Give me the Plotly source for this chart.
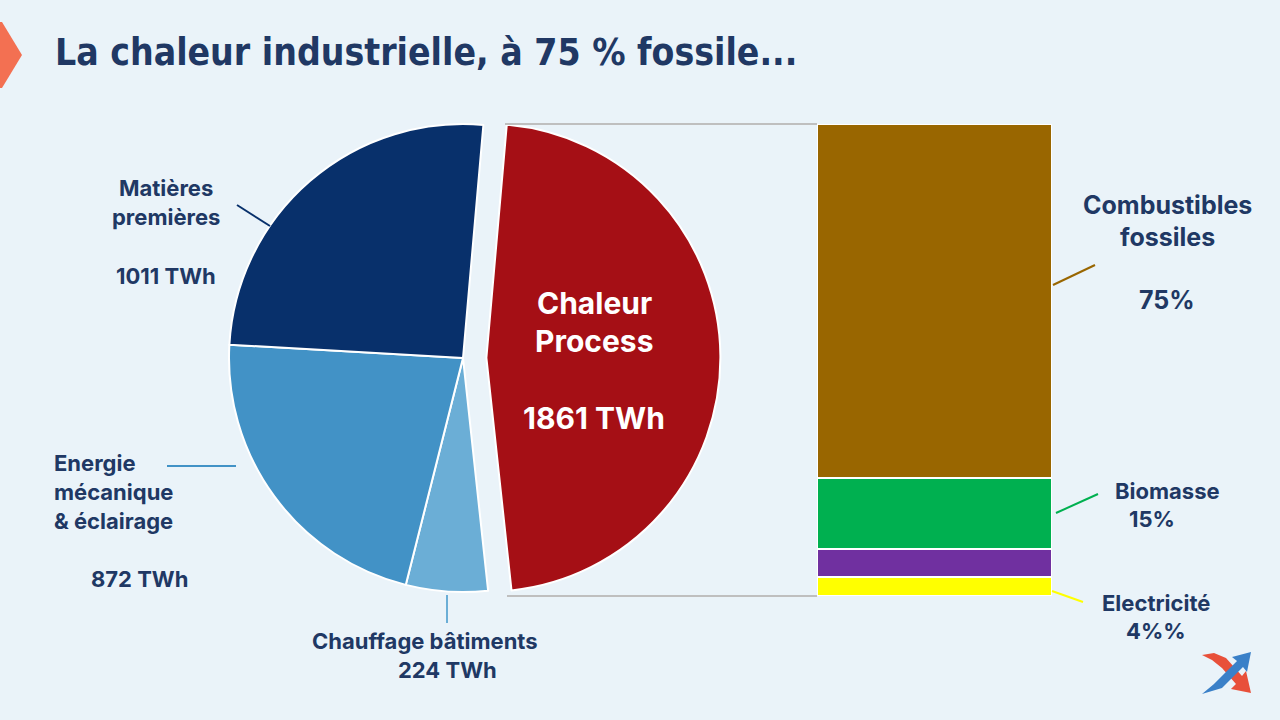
import plotly.graph_objects as go

W, H = 1280, 720

# ---- data ----
pie_labels = ["Chaleur Process", "Chauffage bâtiments", "Energie mécanique & éclairage", "Matières premières"]
pie_values = [1861, 224, 872, 1011]
pie_colors = ["#A50F15", "#6BAED6", "#4292C6", "#08306B"]
pie_pull = [0.1, 0, 0, 0]

bar_labels = ["Electricité", "Autres", "Biomasse", "Combustibles fossiles"]
bar_values = [4, 6, 15, 75]
bar_colors = ["#FFFF00", "#7030A0", "#00B050", "#996600"]

title_text = "La chaleur industrielle, à 75 % fossile..."

BG = "#EAF3F9"
NAVY = "#203864"
FONT = "Inter"


def X(px):
    return px / W


def Y(py):
    return 1 - py / H


def path(points):
    s = "M " + " L ".join(f"{X(a):.5f},{Y(b):.5f}" for a, b in points) + " Z"
    return s


fig = go.Figure()

# pie
cx, cy, r = 463, 358, 234
half = r * (1 + max(pie_pull))
fig.add_trace(go.Pie(
    labels=pie_labels, values=pie_values, sort=False, direction="clockwise",
    rotation=5, pull=pie_pull, textinfo="none", hoverinfo="label+value",
    marker=dict(colors=pie_colors, line=dict(color="white", width=2)),
    domain=dict(x=[X(cx - half), X(cx + half)], y=[Y(cy + half), Y(cy - half)]),
    showlegend=False,
))

# stacked bar
for lab, v, c in zip(bar_labels, bar_values, bar_colors):
    fig.add_trace(go.Bar(
        x=[0], y=[v], name=lab, width=1, xaxis="x2", yaxis="y2",
        marker=dict(color=c, line=dict(color="white", width=1.5)),
        showlegend=False, hoverinfo="name+y",
    ))

bar_top, bar_bot, bar_l, bar_r = 124, 596, 817, 1052
fig.update_layout(
    width=W, height=H, margin=dict(l=0, r=0, t=0, b=0),
    paper_bgcolor=BG, plot_bgcolor=BG, barmode="stack",
    xaxis2=dict(domain=[X(bar_l), X(bar_r)], range=[-0.5, 0.5], visible=False, anchor="y2"),
    yaxis2=dict(domain=[Y(bar_bot), Y(bar_top)], range=[0, 100], visible=False, anchor="x2"),
    xaxis=dict(visible=False), yaxis=dict(visible=False),
)

shapes = []
# connectors
for (x0, y0, x1, y1) in [(505, 124, bar_l, 124), (507, 596, bar_l, 596)]:
    shapes.append(dict(type="line", xref="paper", yref="paper", x0=X(x0), y0=Y(y0), x1=X(x1), y1=Y(y1),
                       line=dict(color="#BFBFBF", width=2)))
# leader lines
leaders = [
    (237, 205, 270, 226, "#08306B"),
    (167, 466, 236, 466, "#4292C6"),
    (447, 595, 447, 623, "#6BAED6"),
    (1053, 285, 1095, 265, "#996600"),
    (1056, 513, 1098, 494, "#00B050"),
    (1052, 591, 1083, 602, "#FFFF00"),
]
for x0, y0, x1, y1, c in leaders:
    shapes.append(dict(type="line", xref="paper", yref="paper", x0=X(x0), y0=Y(y0), x1=X(x1), y1=Y(y1),
                       line=dict(color=c, width=2)))
# title chevron
shapes.append(dict(type="path", xref="paper", yref="paper",
                   path=path([(0, 22), (2, 22), (22, 55), (2, 88), (0, 88)]),
                   fillcolor="#F37052", line=dict(width=0)))
# logo
shapes.append(dict(type="path", xref="paper", yref="paper",
                   path=path([(1202, 655), (1214, 653), (1226, 658), (1242, 676), (1246, 671), (1251, 693),
                              (1231, 689), (1236, 684), (1222, 668), (1212, 660)]),
                   fillcolor="#E8503A", line=dict(width=0)))
shapes.append(dict(type="path", xref="paper", yref="paper",
                   path=path([(1202, 694), (1214, 684), (1237, 661), (1232, 657), (1251, 652), (1247, 672),
                              (1243, 667), (1222, 688)]),
                   fillcolor="#3A80C8", line=dict(width=0)))
fig.update_layout(shapes=shapes)

ann = []


def txt(s, x, y, size=22, color=NAVY, align="center", xanchor="center", family=FONT):
    ann.append(dict(text=s, x=X(x), y=Y(y), xref="paper", yref="paper", showarrow=False,
                    xanchor=xanchor, yanchor="middle", align=align,
                    font=dict(family=family, size=size, color=color, weight="bold")))


txt(title_text, 53, 53, size=37, xanchor="left", family="DejaVu Sans Condensed, Roboto, sans-serif")

txt("Matières", 166, 188)
txt("premières", 166, 217)
txt(f"{pie_values[3]} TWh", 166, 276)
txt("Energie", 52, 463, xanchor="left")
txt("mécanique", 52, 492, xanchor="left")
txt("& éclairage", 52, 521, xanchor="left")
txt(f"{pie_values[2]} TWh", 139, 579)
txt("Chauffage bâtiments", 425, 641)
txt(f"{pie_values[1]} TWh", 447, 670)
txt("Chaleur", 594, 303, size=30, color="white")
txt("Process", 594, 341, size=30, color="white")
txt(f"{pie_values[0]} TWh", 594, 418, size=30, color="white")

txt("Combustibles", 1167, 205, size=25)
txt("fossiles", 1167, 237, size=25)
txt(f"{bar_values[3]}%", 1167, 300, size=25)
txt("Biomasse", 1167, 491)
txt(f"{bar_values[2]}%", 1152, 519)
txt("Electricité", 1156, 603)
txt(f"{bar_values[0]}%%", 1156, 631)

fig.update_layout(annotations=ann)
fig.write_html("out.html")
